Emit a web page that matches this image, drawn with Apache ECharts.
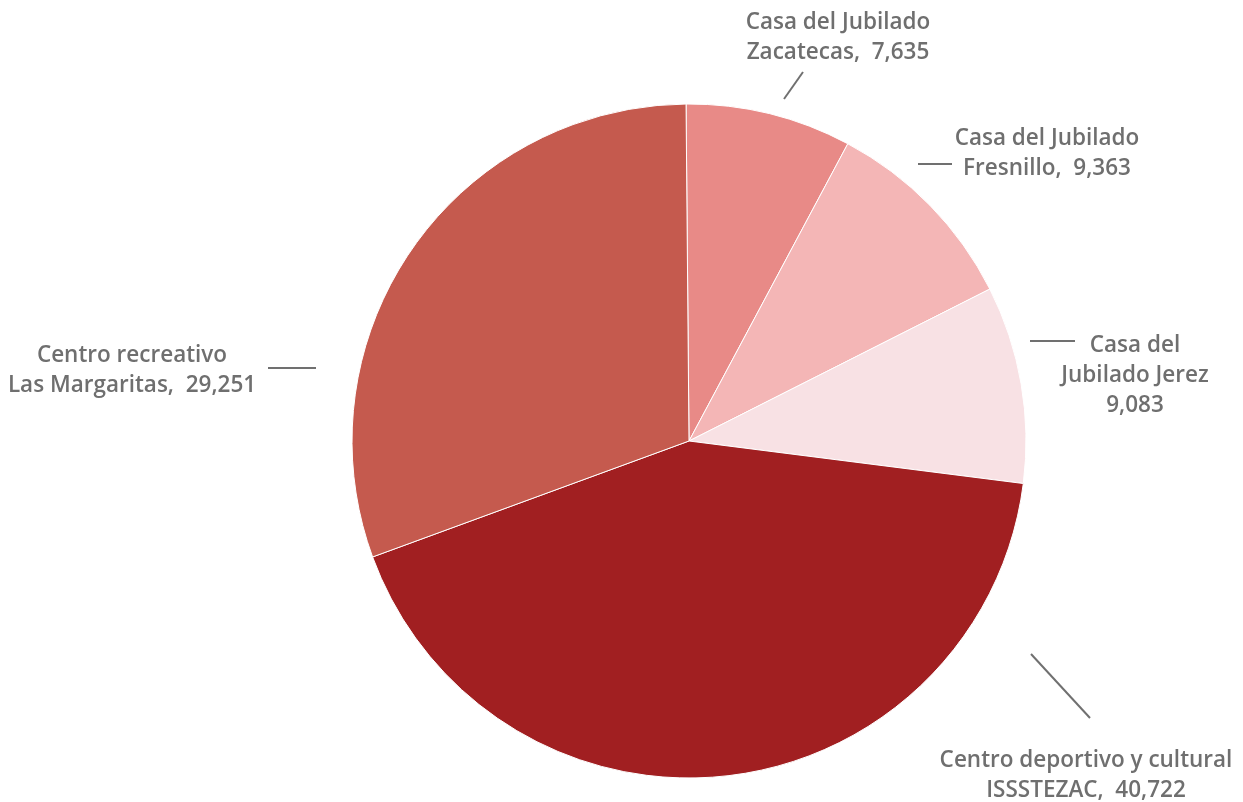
<!DOCTYPE html>
<html>
<head>
<meta charset="utf-8">
<script src="https://cdn.jsdelivr.net/npm/echarts@6/dist/echarts.min.js"></script>
<style>html,body{margin:0;padding:0;background:#fff;}#chart{width:1243px;height:802px;}</style>
</head>
<body>
<div id="chart"></div>
<script>
// Data
const categories = [
  'Casa del Jubilado\nZacatecas',
  'Casa del Jubilado\nFresnillo',
  'Casa del\nJubilado Jerez',
  'Centro deportivo y cultural\nISSSTEZAC',
  'Centro recreativo\nLas Margaritas'
];
const values = [7635, 9363, 9083, 40722, 29251];

// Styles / layout (not data)
const colors = ['#E88A87', '#F4B6B6', '#F8E1E4', '#A11F21', '#C55A4E'];
const separators = [',  ', ',  ', '\n', ',  ', ',  '];
const pieCenter = [689, 441];
const pieRadius = 337;
// label anchor and leader-line endpoints, as offsets from pie center
const labelPlace = [
  { label: [149, -403], line: [[95, -342], [114, -369]] },
  { label: [358, -287], line: [[229, -277], [263, -277]] },
  { label: [446, -65],  line: [[341, -100], [386, -100]] },
  { label: [397, 335],  line: [[342, 213], [401, 277]] },
  { label: [-557, -70], line: [[-373, -73], [-421, -73]] }
];

const fmt = v => v.toLocaleString('en-US');
const chart = echarts.init(document.getElementById('chart'));
chart.setOption({
  animation: false,
  series: [{
    type: 'pie',
    center: pieCenter,
    radius: pieRadius,
    startAngle: 90.5,
    clockwise: true,
    avoidLabelOverlap: false,
    itemStyle: { borderColor: '#ffffff', borderWidth: 1 },
    emphasis: { disabled: true },
    label: {
      show: true,
      position: 'outside',
      color: '#6f6f6f',
      fontFamily: 'Open Sans',
      fontWeight: 600,
      fontSize: 22.5,
      lineHeight: 30,
      formatter: p => p.name + separators[p.dataIndex] + fmt(p.value)
    },
    labelLine: { show: true, lineStyle: { color: '#707070', width: 2 } },
    labelLayout: function (p) {
      const pl = labelPlace[p.dataIndex];
      const pts = pl.line.map(q => [pieCenter[0] + q[0], pieCenter[1] + q[1]]);
      return {
        x: pieCenter[0] + pl.label[0],
        y: pieCenter[1] + pl.label[1],
        align: 'center',
        verticalAlign: 'middle',
        labelLinePoints: [pts[0], pts[1], pts[1]]
      };
    },
    data: categories.map((c, i) => ({ name: c, value: values[i], itemStyle: { color: colors[i] } }))
  }]
});
</script>
</body>
</html>
